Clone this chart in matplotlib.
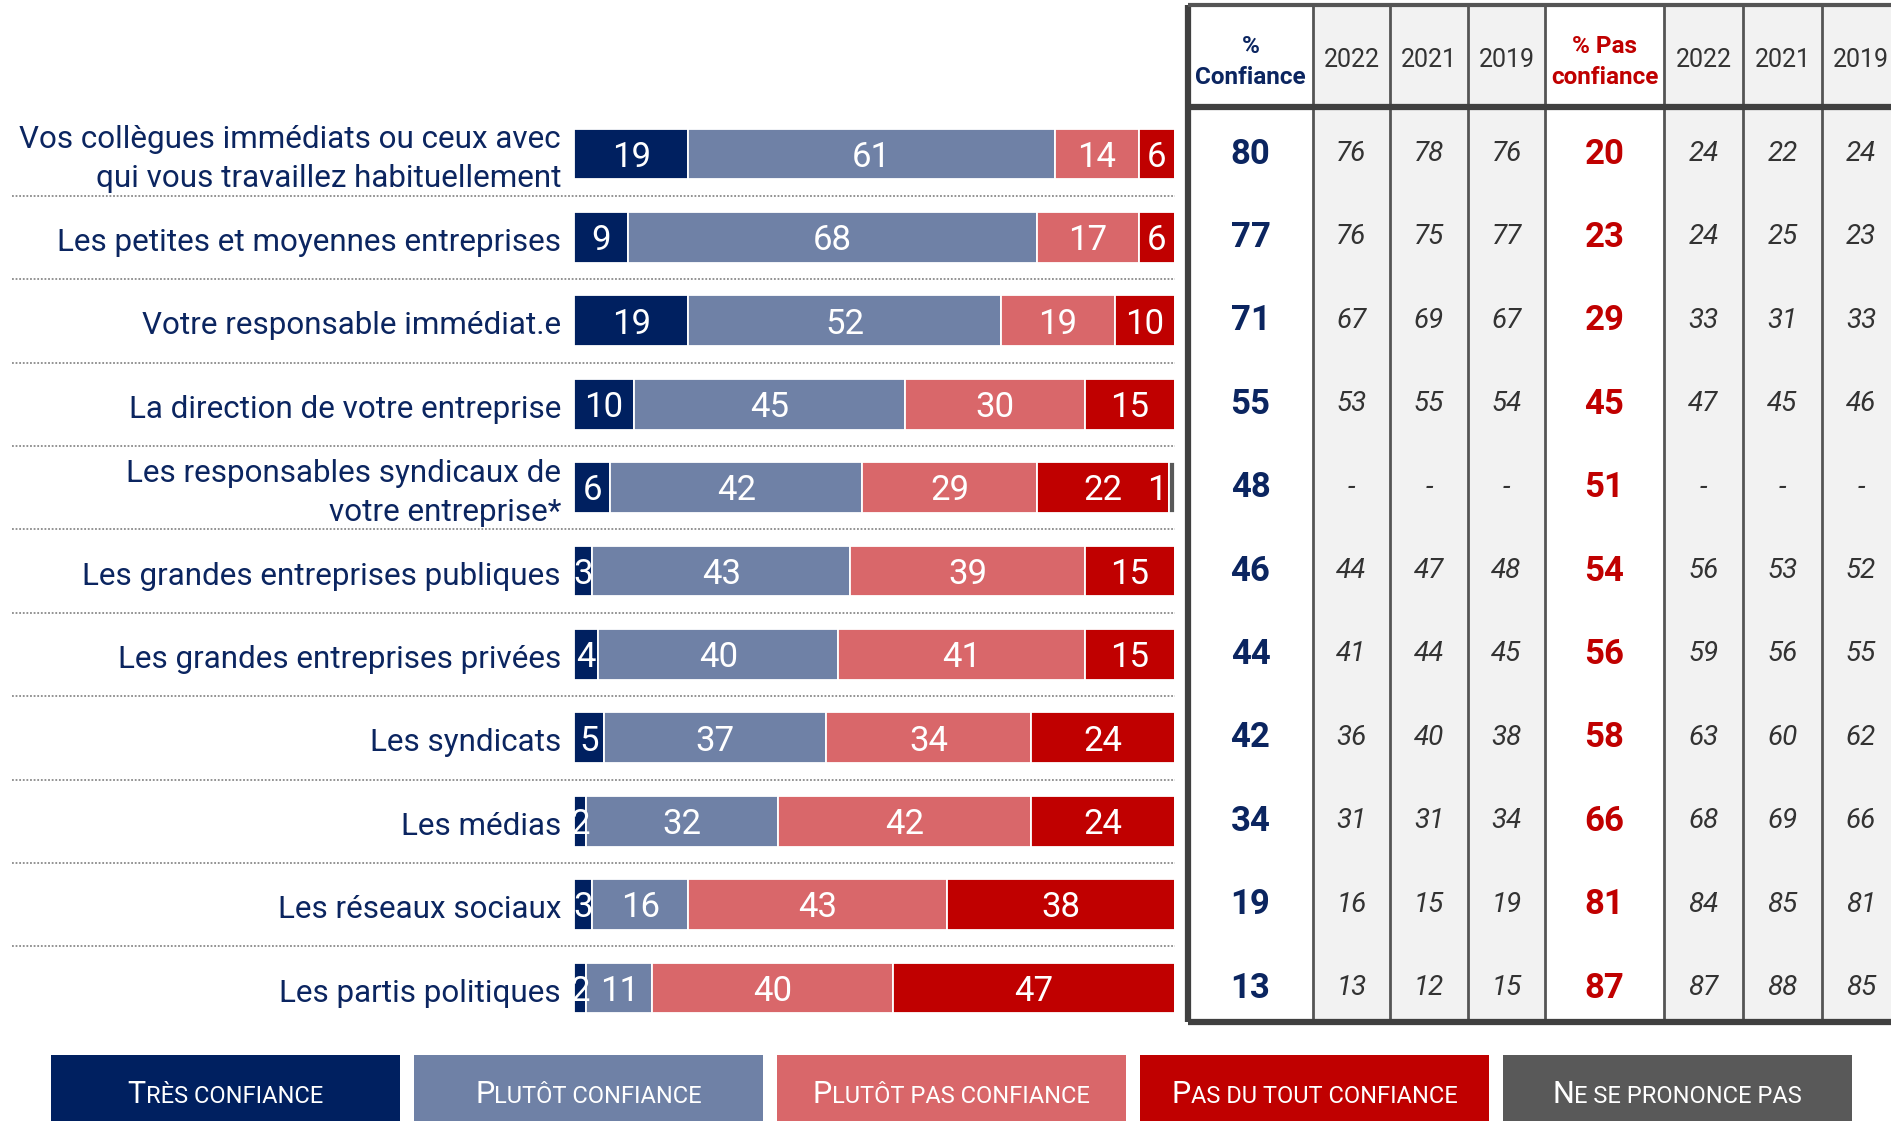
import matplotlib
matplotlib.use("Agg")
import matplotlib.pyplot as plt
import matplotlib.transforms as mtrans
import numpy as np

plt.rcParams['font.family'] = ['Roboto', 'DejaVu Sans']

# ---------------- data ----------------
categories = [
    "Vos collègues immédiats ou ceux avec\nqui vous travaillez habituellement",
    "Les petites et moyennes entreprises",
    "Votre responsable immédiat.e",
    "La direction de votre entreprise",
    "Les responsables syndicaux de\nvotre entreprise*",
    "Les grandes entreprises publiques",
    "Les grandes entreprises privées",
    "Les syndicats",
    "Les médias",
    "Les réseaux sociaux",
    "Les partis politiques",
]
tres_confiance = [19, 9, 19, 10, 6, 3, 4, 5, 2, 3, 2]
plutot_confiance = [61, 68, 52, 45, 42, 43, 40, 37, 32, 16, 11]
plutot_pas_confiance = [14, 17, 19, 30, 29, 39, 41, 34, 42, 43, 40]
pas_du_tout_confiance = [6, 6, 10, 15, 22, 15, 15, 24, 24, 38, 47]
ne_se_prononce_pas = [0, 0, 0, 0, 1, 0, 0, 0, 0, 0, 0]

series_names = ["Très confiance", "Plutôt confiance", "Plutôt pas confiance",
                "Pas du tout confiance", "Ne se prononce pas"]
series = [tres_confiance, plutot_confiance, plutot_pas_confiance,
          pas_du_tout_confiance, ne_se_prononce_pas]

table_headers = ["%\nConfiance", "2022", "2021", "2019",
                 "% Pas\nconfiance", "2022", "2021", "2019"]
confiance = [80, 77, 71, 55, 48, 46, 44, 42, 34, 19, 13]
confiance_2022 = [76, 76, 67, 53, None, 44, 41, 36, 31, 16, 13]
confiance_2021 = [78, 75, 69, 55, None, 47, 44, 40, 31, 15, 12]
confiance_2019 = [76, 77, 67, 54, None, 48, 45, 38, 34, 19, 15]
pas_confiance = [20, 23, 29, 45, 51, 54, 56, 58, 66, 81, 87]
pas_confiance_2022 = [24, 24, 33, 47, None, 56, 59, 63, 68, 84, 87]
pas_confiance_2021 = [22, 25, 31, 45, None, 53, 56, 60, 69, 85, 88]
pas_confiance_2019 = [24, 23, 33, 46, None, 52, 55, 62, 66, 81, 85]
table_columns = [confiance, confiance_2022, confiance_2021, confiance_2019,
                 pas_confiance, pas_confiance_2022, pas_confiance_2021, pas_confiance_2019]

# ---------------- style ----------------
colors = ["#002060", "#6F81A6", "#D9676A", "#C00000", "#595959"]
NAVY = "#0B2560"
RED = "#C00000"
GREY_TXT = "#333333"

W, H = 1891, 1121
fig = plt.figure(figsize=(W / 100, H / 100), dpi=100)
fig.patch.set_facecolor("white")


def px_axes(x0, y0, x1, y1):
    return fig.add_axes([x0 / W, 1 - y1 / H, (x1 - x0) / W, (y1 - y0) / H])


Y_TOP, Y_BOT = 5, 1022
ROW0, ROWSTEP = 154, 83.4
ylim_top = (Y_TOP - ROW0) / ROWSTEP
ylim_bot = (Y_BOT - ROW0) / ROWSTEP
header_bottom = (107 - ROW0) / ROWSTEP

# ---------------- bars ----------------
BX0, BX1 = 574, 1175
axb = px_axes(BX0, Y_TOP, BX1, Y_BOT)
axb.set_xlim(0, 100)
axb.set_ylim(ylim_bot, ylim_top)
axb.axis("off")

y = np.arange(len(categories))
left = np.zeros(len(categories))
for k, (vals, col) in enumerate(zip(series, colors)):
    vals = np.array(vals, dtype=float)
    axb.barh(y, vals, left=left, height=0.61, color=col,
             edgecolor="white", linewidth=1.3)
    for yi, v, l in zip(y, vals, left):
        if v <= 0:
            continue
        if k == 4:
            axb.text(l - 0.4, yi + 0.04, f"{int(v)}", ha="right", va="center",
                     color="white", fontsize=25)
        else:
            axb.text(l + v / 2, yi + 0.04, f"{int(v)}", ha="center", va="center",
                     color="white", fontsize=25)
    left += vals

# category labels
lab_x = (561 - BX0) / (BX1 - BX0)
for yi, cat in zip(y, categories):
    axb.text(lab_x, yi + 0.06, cat, transform=axb.get_yaxis_transform(), ha="right",
             va="center", color=NAVY, fontsize=22.6, linespacing=1.43, clip_on=False)

# dotted separators
axb.hlines(y[:-1] + 0.5, (12 - BX0) / (BX1 - BX0), 1.0,
           transform=axb.get_yaxis_transform(), colors="#8A8A8A",
           linestyles=(0, (1, 1)), linewidth=1.3, clip_on=False)

# ---------------- table ----------------
col_widths = [125, 77, 78, 77, 119, 79, 79, 78]
edges = np.concatenate([[0], np.cumsum(col_widths)])
TX0 = 1188
axt = px_axes(TX0, Y_TOP, TX0 + edges[-1], Y_BOT)
axt.set_xlim(0, edges[-1])
axt.set_ylim(ylim_bot, ylim_top)
axt.axis("off")

main_cols = {0: NAVY, 4: RED}
for c in range(len(col_widths)):
    if c not in main_cols:
        axt.axvspan(edges[c], edges[c + 1], color="#F2F2F2", zorder=0)

axt.vlines(edges[1:-1], ylim_bot, ylim_top, colors="#555555", linewidth=2, zorder=2)
axt.vlines([0], ylim_bot, ylim_top, colors="#404040", linewidth=4.5, zorder=3, clip_on=False)
axt.hlines([ylim_top], 0, edges[-1], colors="#555555", linewidth=3, zorder=3, clip_on=False)
axt.hlines([header_bottom, ylim_bot], 0, edges[-1], colors="#404040",
           linewidth=4.5, zorder=3, clip_on=False)

hy = (ylim_top + header_bottom) / 2 + 0.05
for c, head in enumerate(table_headers):
    cx = (edges[c] + edges[c + 1]) / 2
    if c in main_cols:
        axt.text(cx, hy + 0.02, head, ha="center", va="center", color=main_cols[c],
                 fontsize=17.5, fontweight="bold", linespacing=1.42)
    else:
        axt.text(cx, hy, head, ha="center", va="center", color=GREY_TXT, fontsize=18)

for c, colvals in enumerate(table_columns):
    cx = (edges[c] + edges[c + 1]) / 2
    for yi, v in zip(y, colvals):
        txt = "-" if v is None else f"{v}"
        if c in main_cols:
            axt.text(cx, yi, txt, ha="center", va="center", color=main_cols[c],
                     fontsize=25, fontweight="bold")
        else:
            axt.text(cx, yi, txt, ha="center", va="center", color=GREY_TXT,
                     fontsize=20, fontstyle="italic")

# ---------------- legend ----------------
STEP = 363
axl = px_axes(225.5 - STEP / 2, 1055, 225.5 + 4.5 * STEP, 1131)
axl.set_xlim(-0.5, len(series_names) - 0.5)
axl.set_ylim(0, 1)
axl.axis("off")
axl.bar(np.arange(len(series_names)), [1] * len(series_names), width=349 / STEP,
        bottom=0, color=colors, align="center")

fig.canvas.draw()
r = fig.canvas.get_renderer()
for i, name in enumerate(series_names):
    t1 = axl.text(i, 0.37, name[0].upper(), fontsize=22, color="white",
                  ha="left", va="baseline")
    t2 = axl.text(i, 0.37, name[1:].upper(), fontsize=17, color="white",
                  ha="left", va="baseline")
    w1 = t1.get_window_extent(r).width
    w2 = t2.get_window_extent(r).width
    tot = w1 + w2
    t1.set_transform(mtrans.offset_copy(axl.transData, fig=fig, x=-tot / 2, y=0, units="dots"))
    t2.set_transform(mtrans.offset_copy(axl.transData, fig=fig, x=-tot / 2 + w1, y=0, units="dots"))

fig.savefig("out.png", dpi=100, facecolor="white")
